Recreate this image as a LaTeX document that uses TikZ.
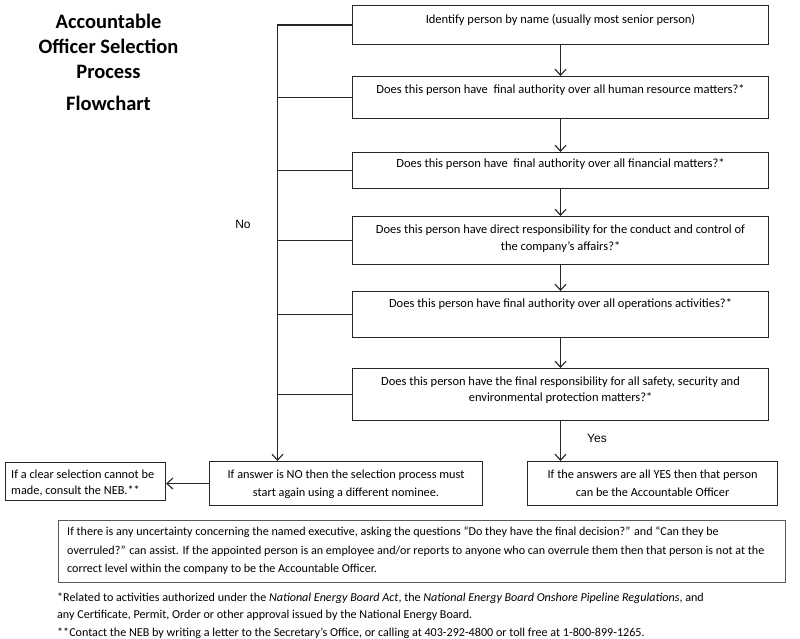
\documentclass[tikz,border=0pt]{standalone}
\usepackage{fontspec}
\setmainfont{Carlito}
\newfontfamily\arialf{Liberation Sans}
\usetikzlibrary{arrows.meta}
\begin{document}
\begin{tikzpicture}[x=1pt,y=-1pt,
  box/.style={draw=black!85, line width=1.1pt, inner sep=0pt, anchor=north west},
  txt/.style={inner sep=0pt, anchor=north, align=center, font=\fontsize{12.5}{17}\selectfont},
  ltxt/.style={inner sep=0pt, anchor=north west, align=left, font=\fontsize{12.1}{18.5}\selectfont},
  lbl/.style={inner sep=0pt, font=\arialf\fontsize{12}{14}\selectfont},
  ttl/.style={inner sep=0pt, anchor=north, align=center, font=\bfseries\fontsize{20.5}{25}\selectfont},
  ln/.style={line width=1.1pt, draw=black!85},
  arr/.style={line width=1.1pt, draw=black!85, -{Straight Barb[length=6pt,width=11pt,line width=1.1pt]}}]
\useasboundingbox[fill=white] (0,0) rectangle (800,639);

% title
\node[ttl] (title) at (108.5,14) {Accountable\\Officer Selection\\Process};
\node[ttl] (flow) at (108.5,96) {Flowchart};

% main column boxes
\node[box, minimum width=416pt, minimum height=39pt] (b1) at (352,5) {};
\node[box, minimum width=416pt, minimum height=42pt] (b2) at (352,76) {};
\node[box, minimum width=416pt, minimum height=36pt] (b3) at (352,152) {};
\node[box, minimum width=416pt, minimum height=48pt] (b4) at (352,216) {};
\node[box, minimum width=416pt, minimum height=46pt] (b5) at (352,291) {};
\node[box, minimum width=416pt, minimum height=52pt] (b6) at (352,368) {};

\node[txt] (t1) at (b1.north |- 0,14) {Identify person by name (usually most senior person)};
\node[txt] (t2) at (b2.north |- 0,84) {Does this person have~ final authority over all human resource matters?*};
\node[txt] (t3) at (b3.north |- 0,158) {Does this person have~ final authority over all financial matters?*};
\node[txt] (t4) at (b4.north |- 0,225) {Does this person have direct responsibility for the conduct and control of\\the company’s affairs?*};
\node[txt] (t5) at (b5.north |- 0,298) {Does this person have final authority over all operations activities?*};
\node[txt, font=\fontsize{12.5}{16}\selectfont] (t6) at (b6.north |- 0,377) {Does this person have the final responsibility for all safety, security and\\environmental protection matters?*};

% bottom boxes
\node[box, minimum width=160pt, minimum height=38pt] (bleft) at (5,462) {};
\node[box, minimum width=273pt, minimum height=44pt] (bno) at (209,461) {};
\node[box, minimum width=250pt, minimum height=44pt] (byes) at (527,461) {};

\node[ltxt, font=\fontsize{12.3}{16}\selectfont] (tleft) at (11,470) {If a clear selection cannot be\\made, consult the NEB.**};
\node[txt, font=\fontsize{12.3}{18}\selectfont] (tno) at (bno.north |- 0,470) {If answer is NO then the selection process must\\start again using a different nominee.};
\node[txt, font=\fontsize{12.3}{18}\selectfont] (tyes) at (byes.north |- 0,470) {If the answers are all YES then that person\\can be the Accountable Officer};

% note box
\node[box, draw=black!65, minimum width=727pt, minimum height=62pt] (note) at (58,520) {};
\node[ltxt] (tnote) at (67,527) {If there is any uncertainty concerning the named executive, asking the questions “Do they have the final decision?” and “Can they be\\overruled?” can assist. If the appointed person is an employee and/or reports to anyone who can overrule them then that person is not at the\\correct level within the company to be the Accountable Officer.};

% footnotes
\node[ltxt, font=\fontsize{12.1}{17.5}\selectfont] (foot) at (57,592.5) {*Related to activities authorized under the \textit{National Energy Board Act}, the \textit{National Energy Board Onshore Pipeline Regulations}, and\\any Certificate, Permit, Order or other approval issued by the National Energy Board.\\**Contact the NEB by writing a letter to the Secretary’s Office, or calling at 403-292-4800 or toll free at 1-800-899-1265.};

% connectors
\coordinate (L) at (277.5,0);
\draw[arr] (b1) -- (b2);
\draw[arr] (b2) -- (b3);
\draw[arr] (b3) -- (b4);
\draw[arr] (b4) -- (b5);
\draw[arr] (b5) -- (b6);
\draw[arr] (b6.south) -- (b6.south |- byes.north);
\draw[arr] (b1.west) -| (L |- bno.north);
\draw[ln] (b2.west) -- (b2.west -| L);
\draw[ln] (b3.west) -- (b3.west -| L);
\draw[ln] (b4.west) -- (b4.west -| L);
\draw[ln] (b5.west) -- (b5.west -| L);
\draw[ln] (b6.west) -- (b6.west -| L);
\draw[arr] (bno.west) -- (bno.west -| bleft.east);

% labels
\node[lbl] (nolbl) at (243,224) {No};
\node[lbl] (yeslbl) at (597,438) {Yes};
\end{tikzpicture}
\end{document}
